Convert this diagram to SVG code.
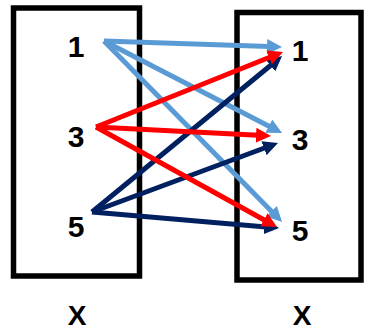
<svg xmlns="http://www.w3.org/2000/svg" width="370" height="333" viewBox="0 0 370 333">
<style>
.box{fill:none;stroke:#000;stroke-width:5.5}
.lbl{font-family:"Liberation Sans",Arial,sans-serif;font-weight:bold;font-size:30px;text-anchor:middle;fill:#000}
.set{font-family:"Liberation Sans",Arial,sans-serif;font-weight:bold;font-size:28px;text-anchor:middle;fill:#000}
.c{stroke-width:5;fill:none}
.b{stroke:#5B9BD5;marker-end:url(#mb)}
.r{stroke:#FF0000;marker-end:url(#mr)}
.n{stroke:#002060;marker-end:url(#mn)}
</style>
<defs>
<marker id="mb" viewBox="0 0 10 10" refX="1.3" refY="5" markerWidth="3" markerHeight="3" orient="auto"><path d="M0,0 L10,5 L0,10 z" fill="#5B9BD5"/></marker>
<marker id="mr" viewBox="0 0 10 10" refX="1.3" refY="5" markerWidth="3" markerHeight="3" orient="auto"><path d="M0,0 L10,5 L0,10 z" fill="#FF0000"/></marker>
<marker id="mn" viewBox="0 0 10 10" refX="1.3" refY="5" markerWidth="3" markerHeight="3" orient="auto"><path d="M0,0 L10,5 L0,10 z" fill="#002060"/></marker>
</defs>
<rect width="370" height="333" fill="#fff"/>
<g id="domain">
<rect class="box" x="13.5" y="8" width="126" height="268"/>
<text class="lbl" x="76" y="57">1</text>
<text class="lbl" x="76" y="147">3</text>
<text class="lbl" x="76" y="237">5</text>
<text class="set" x="77" y="325">X</text>
</g>
<g id="codomain">
<rect class="box" x="237" y="12.5" width="124" height="267.5"/>
<text class="lbl" x="300" y="61">1</text>
<text class="lbl" x="300" y="150">3</text>
<text class="lbl" x="300" y="241">5</text>
<text class="set" x="302" y="325">X</text>
</g>
<g id="connectors">
<line class="c b" x1="104" y1="41" x2="269" y2="46.6"/>
<line class="c b" x1="104" y1="41" x2="270.5" y2="127"/>
<line class="c b" x1="104" y1="41" x2="272.9" y2="212.7"/>
<line class="c n" x1="92" y1="212" x2="272" y2="64.3"/>
<line class="c n" x1="92" y1="212" x2="265.8" y2="147.5"/>
<line class="c n" x1="92" y1="212" x2="266.1" y2="226.9"/>
<line class="c r" x1="96" y1="127" x2="270.9" y2="56.8"/>
<line class="c r" x1="96" y1="127" x2="258" y2="135.3"/>
<line class="c r" x1="96" y1="127" x2="265.6" y2="220.7"/>
</g>
</svg>
